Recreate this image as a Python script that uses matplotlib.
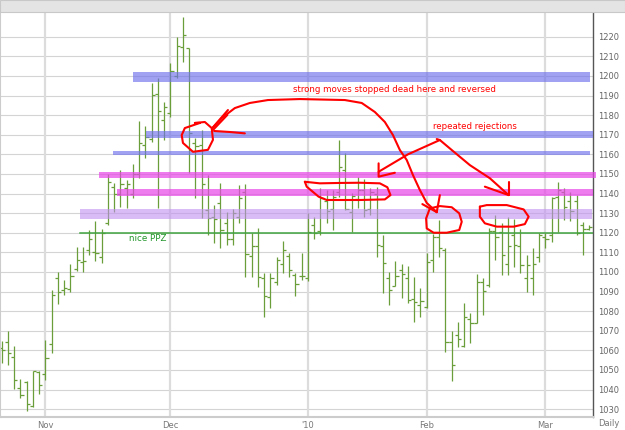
import matplotlib.pyplot as plt
from matplotlib.patches import Rectangle

# daily OHLC bars, one entry per trading day (index 0 = late Oct)
opens = [1061, 1064.4, 1056.8, 1041, 1044, 1031.6, 1049, 1048, 1063, 1097,
         1091, 1091.5, 1101.7, 1105, 1111, 1110, 1107.6, 1125, 1143.5, 1140,
         1143, 1140, 1150, 1165, 1168, 1191, 1177.5, 1181, 1200, 1215,
         1214, 1166, 1165, 1131.6, 1128, 1135, 1125, 1117, 1128, 1141,
         1108, 1113, 1097, 1087, 1095, 1104, 1108, 1098.4, 1098, 1097,
         1124, 1121, 1136, 1132, 1141, 1152, 1130.7, 1137, 1142, 1132,
         1140, 1113, 1097, 1093, 1101, 1097, 1086, 1083, 1082.2, 1106,
         1118, 1111, 1064, 1068, 1062.2, 1076, 1074, 1095, 1093.3, 1121,
         1120.5, 1104, 1119, 1113, 1096.7, 1096.7, 1107.8, 1118, 1118.8, 1138,
         1141, 1136, 1136, 1124, 1122]
highs = [1064.6, 1069.8, 1062.4, 1045.6, 1044.5, 1049.6, 1049.7, 1065.2, 1090.7, 1100,
         1095.8, 1104.2, 1112.7, 1112.7, 1121.5, 1125.8, 1122, 1150, 1145.2, 1152,
         1147, 1155, 1177, 1174.4, 1196.2, 1198.8, 1186.8, 1206.4, 1220, 1230.2,
         1214, 1168.2, 1172.4, 1149.4, 1134, 1145.2, 1130.7, 1131.9, 1144.3, 1144.8,
         1120, 1122.2, 1099.3, 1099.3, 1107.8, 1115.8, 1109.5, 1099.3, 1109.5, 1130,
         1128, 1142.6, 1141.8, 1141.8, 1167.3, 1160.5, 1140.1, 1148.3, 1147.2, 1142.6,
         1143.5, 1118.8, 1100.1, 1105.6, 1104, 1103, 1097.2, 1091.6, 1109.5, 1119.3,
         1126.5, 1112, 1070, 1074.6, 1084, 1078.9, 1098.8, 1096.7, 1122.2, 1129,
         1125.1, 1128.2, 1126.8, 1121.7, 1108.6, 1112, 1119.7, 1120, 1138.4, 1146,
         1142.6, 1141, 1139.2, 1125.6, 1124]
lows = [1053.6, 1052.5, 1040.2, 1035.5, 1029, 1031.3, 1037.5, 1044.7, 1058.8, 1083.6,
        1088.1, 1089.8, 1100.5, 1100, 1108.4, 1105.4, 1104.6, 1124, 1130.7, 1133.3,
        1132.8, 1137.6, 1148, 1158, 1166.4, 1132.4, 1167.3, 1179.2, 1198.8, 1207.2,
        1150.3, 1137.6, 1127.3, 1119, 1115, 1112, 1113.7, 1113.7, 1124.8, 1097.6,
        1097.6, 1092.4, 1076.8, 1081.4, 1093.3, 1099.3, 1097.6, 1087.7, 1095.9, 1095.4,
        1117, 1118.8, 1124.8, 1121.4, 1138.4, 1131.6, 1120.2, 1132.4, 1128.2, 1129,
        1107.8, 1089.1, 1083.1, 1092.8, 1086.5, 1084, 1074.6, 1077.1, 1081.4, 1100.1,
        1107.8, 1059.3, 1044.5, 1061.8, 1061.8, 1063.6, 1073.8, 1078, 1092.4, 1106.1,
        1098.4, 1098.4, 1102.7, 1099.3, 1089.9, 1088.2, 1105.2, 1112, 1115.4, 1120.5,
        1126.5, 1126, 1118.8, 1108.6, 1121.4]
closes = [1060, 1058.8, 1044.9, 1037, 1032.5, 1049.4, 1042.5, 1056, 1088, 1090,
          1092, 1097.8, 1105.9, 1105.5, 1117, 1109.7, 1120, 1146, 1140, 1145,
          1145, 1150, 1166, 1169, 1190.3, 1182, 1184.3, 1202.5, 1215.3, 1220.9,
          1171, 1164, 1145, 1127.3, 1127, 1121.4, 1117, 1130, 1137.6, 1109,
          1113, 1097.6, 1087.7, 1097, 1106, 1111, 1101, 1093.8, 1098, 1120.5,
          1120, 1137.6, 1131, 1138, 1153.7, 1132, 1138.7, 1142, 1131.6, 1141,
          1113.7, 1104.7, 1090.8, 1097.9, 1099, 1085.7, 1084.8, 1085, 1105.2, 1117.6,
          1112, 1064, 1052.7, 1066, 1077, 1073.8, 1095, 1090.4, 1120.9, 1118,
          1108.6, 1113, 1113.7, 1103.5, 1103.5, 1104, 1119, 1117, 1137.6, 1142,
          1133, 1131, 1120, 1122, 1123]

month_pos = [7, 27, 49, 68, 87]
month_labels = ["Nov", "Dec", "'10", "Feb", "Mar"]
price_ticks = list(range(1030, 1230, 10))

# hand drawn zones: (low, high, start bar, end bar, colour, alpha)
zones = [
    (1197.0, 1202.1, 21.0, 94.1, "#7070ec", 0.65),
    (1168.5, 1171.9, 23.1, 94.6, "#7070ec", 0.65),
    (1159.6, 1161.7, 17.8, 94.1, "#7070ec", 0.65),
    (1147.8, 1151.0, 15.6, 95.1, "#e844e8", 0.70),
    (1138.9, 1142.3, 18.4, 94.6, "#e844e8", 0.70),
    (1126.8, 1132.1, 12.5, 94.4, "#c090f0", 0.60),
]
ppz_level = 1120
ppz_start = 12.5

# red scribbles, in (bar, price)
dec_circle = [(31.7, 1176.0), (29.3, 1173.4), (28.8, 1169.8), (29.0, 1165.8), (30.6, 1161.3),
              (33.0, 1162.3), (33.8, 1167.4), (33.6, 1173.4), (32.5, 1176.5), (30.9, 1176.0)]
big_curve = [(33.7, 1173.4), (35.2, 1178.5), (37.3, 1183.6), (39.7, 1186.2), (42.6, 1187.7),
             (47.7, 1188.2), (54.9, 1187.7), (57.6, 1186.2), (59.7, 1181.6), (61.3, 1176.5),
             (62.6, 1169.8), (63.7, 1162.2), (64.8, 1157.1), (65.8, 1149.4), (66.9, 1141.8),
             (68.0, 1135.2), (69.6, 1130.5)]
big_head = [[(70.1, 1139.2), (69.6, 1130.5)], [(67.3, 1134.6), (69.6, 1130.5)]]
dec_head = [[(36.2, 1182.6), (33.7, 1173.4)], [(36.1, 1180.1), (33.8, 1172.4)],
            [(38.9, 1170.7), (36.5, 1171.4), (34.0, 1171.9)]]
jan_ellipse = [(48.5, 1146.0), (50.9, 1145.2), (54.1, 1145.4), (57.3, 1145.5), (60.5, 1145.2),
               (61.7, 1143.2), (62.2, 1139.2), (61.3, 1137.0), (57.3, 1136.7), (52.0, 1136.7),
               (50.7, 1138.4), (48.8, 1143.5), (48.5, 1146.0)]
rej_left = [(70.1, 1167.3), (65.0, 1160.0), (60.3, 1151.1)]
rej_left_head = [(60.3, 1155.4), (60.3, 1148.6), (62.9, 1150.6)]
rej_right = [(69.6, 1167.8), (70.1, 1167.3), (72.0, 1162.2), (74.9, 1154.5), (78.1, 1147.8), (81.1, 1139.2)]
rej_right_head = [[(77.3, 1143.5), (81.1, 1139.2)], [(81.1, 1146.0), (81.1, 1139.2)]]
feb_circle = [(68.5, 1132.4), (70.1, 1133.6), (72.0, 1133.0), (73.2, 1129.9), (73.6, 1125.6),
              (73.2, 1121.4), (71.2, 1120.0), (69.1, 1120.0), (68.0, 1122.2), (67.9, 1127.3),
              (68.5, 1132.4)]
late_circle = [(76.5, 1133.3), (77.6, 1134.1), (80.8, 1134.1), (83.5, 1131.9), (84.3, 1128.2),
               (83.7, 1124.4), (81.9, 1123.1), (79.2, 1123.1), (77.3, 1124.8), (76.5, 1128.2),
               (76.5, 1133.3)]


def stroke(ax, pts):
    xs = [p[0] for p in pts]
    ys = [p[1] for p in pts]
    ax.plot(xs, ys, color="#ff0000", lw=1.5, solid_capstyle="round", zorder=6)


fig = plt.figure(figsize=(6.25, 4.3), dpi=100)
ax = fig.add_axes([0.0, 0.0302, 0.9488, 0.9418])

# grid
for p in price_ticks:
    ax.axhline(p, color="#d4d4d4", lw=0.8, zorder=0)
for m in month_pos:
    ax.axvline(m, color="#dcdcdc", lw=1.6, zorder=0)

# OHLC bars
bar_col = "#6a9e3a"
for i in range(len(opens)):
    ax.vlines(i, lows[i], highs[i], color=bar_col, lw=0.9, zorder=2)
    ax.hlines(opens[i], i - 0.5, i, color=bar_col, lw=0.9, zorder=2)
    ax.hlines(closes[i], i, i + 0.5, color=bar_col, lw=0.9, zorder=2)

# zones
for lo, hi, x0, x1, col, a in zones:
    ax.fill_between([x0, x1], lo, hi, color=col, alpha=a, lw=0, zorder=3, clip_on=False)
ax.plot([ppz_start, 94.6], [ppz_level, ppz_level], color="#3fa33f", lw=1.1, zorder=4)
ax.text(20.4, 1117.3, "nice PPZ", color="#22962a", fontsize=6.3, ha="left", va="center", zorder=7)

# scribbles
stroke(ax, dec_circle + dec_circle[:1])
stroke(ax, big_curve)
for s in big_head + dec_head + rej_right_head:
    stroke(ax, s)
stroke(ax, jan_ellipse)
stroke(ax, rej_left)
stroke(ax, rej_left_head)
stroke(ax, rej_right)
stroke(ax, feb_circle)
stroke(ax, late_circle)

ax.text(62.9, 1193.3, "strong moves stopped dead here and reversed", color="#ff0000",
        fontsize=6.2, ha="center", va="center", zorder=7)
ax.text(75.7, 1174.4, "repeated rejections", color="#ff0000",
        fontsize=6.2, ha="center", va="center", zorder=7)

# axes
ax.set_xlim(-0.27, 94.6)
ax.set_ylim(1025.97, 1232.6)
ax.yaxis.tick_right()
ax.set_yticks(price_ticks)
ax.set_yticklabels([str(p) for p in price_ticks])
ax.set_xticks(month_pos)
ax.set_xticklabels(month_labels)
ax.tick_params(axis="y", length=0, pad=4, labelsize=6, labelcolor="#666666")
ax.tick_params(axis="x", length=0, pad=3, labelsize=6, labelcolor="#777777")
ax.spines["right"].set_color("#555555")
ax.spines["right"].set_linewidth(1.0)
ax.spines["top"].set_visible(False)
ax.spines["left"].set_color("#cccccc")
ax.spines["left"].set_linewidth(1.5)
ax.spines["bottom"].set_color("#cccccc")
ax.spines["bottom"].set_linewidth(1.5)

# grey header strip and label footer
fig.patches.append(Rectangle((0, 1 - 12 / 430), 1, 12 / 430, transform=fig.transFigure,
                             facecolor="#e4e4e4", edgecolor="#c8c8c8", lw=0.8))
fig.text(0.974, 0.014, "Daily", fontsize=6, color="#777777", ha="center", va="center")

fig.savefig("out.png", dpi=100)
